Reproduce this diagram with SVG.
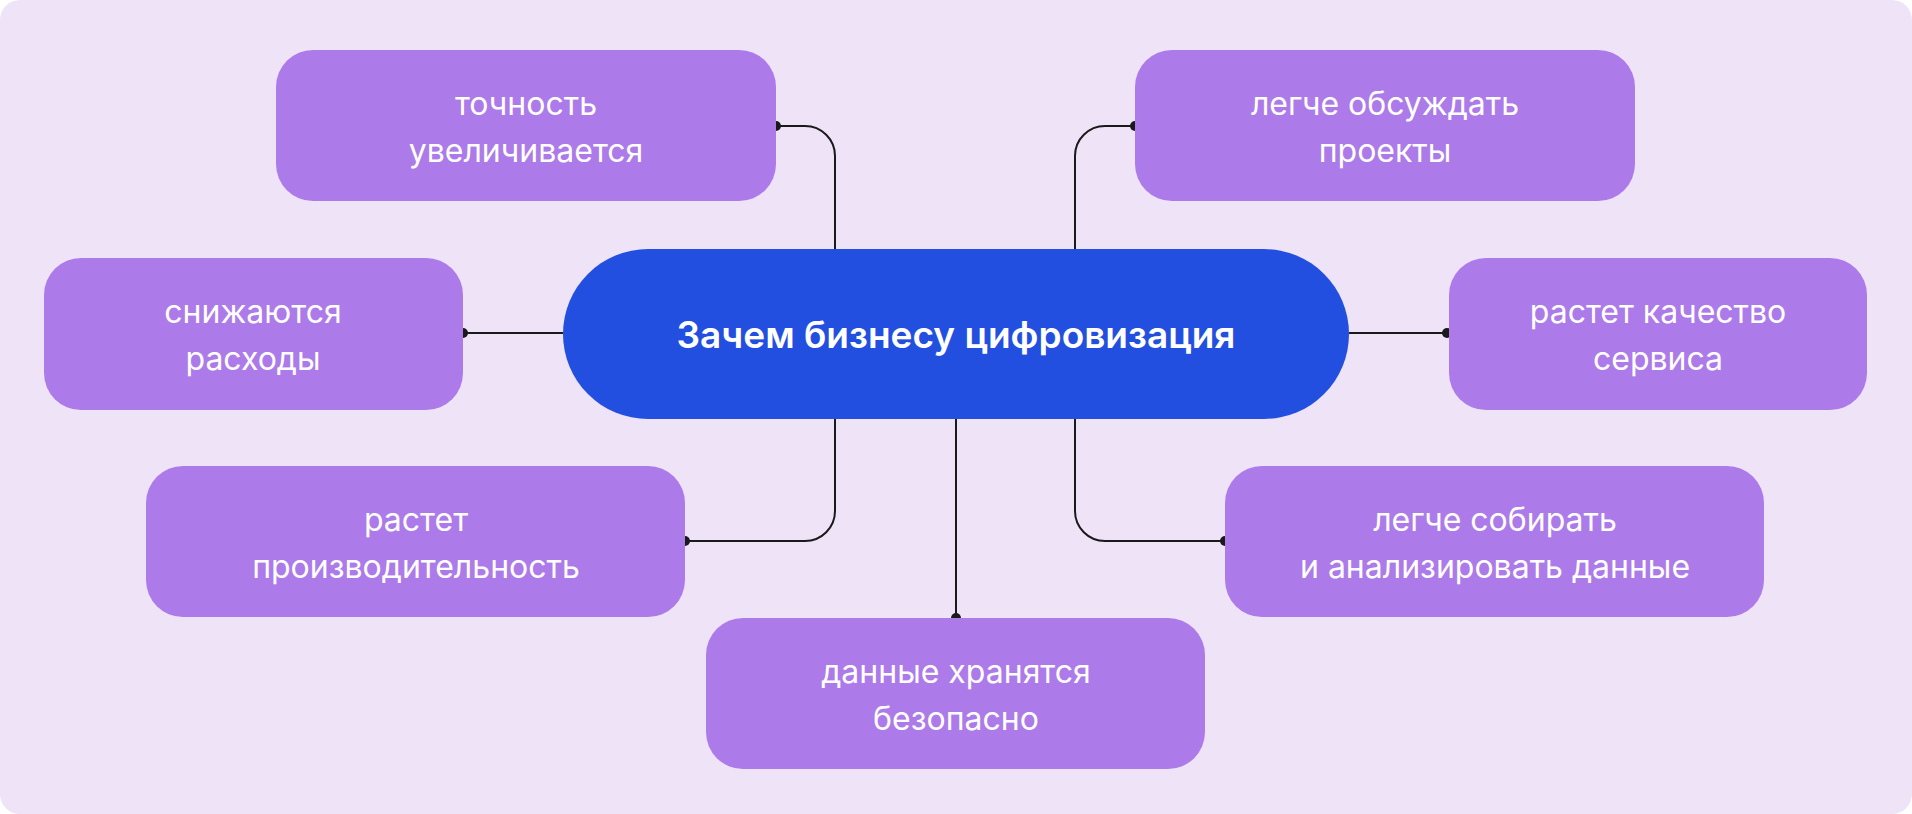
<svg xmlns="http://www.w3.org/2000/svg" width="1912" height="814" viewBox="0 0 1912 814">
<style>
.b{fill:#AD7BE9}
.t{font-family:Inter,"Noto Sans",sans-serif;font-size:32px;fill:#fff;text-anchor:middle}
.c{fill:none;stroke:#1a1a1a;stroke-width:2}
.d{fill:#1a1a1a}
</style>
<rect width="1912" height="814" rx="20" fill="#EFE3F8"/>
<g id="connectors">
<path class="c" d="M776 126H805a30 30 0 0 1 30 30V249"/>
<path class="c" d="M1135 126H1105a30 30 0 0 0 -30 30V249"/>
<path class="c" d="M463 333H563"/>
<path class="c" d="M1349 333H1447"/>
<path class="c" d="M835 419V511a30 30 0 0 1 -30 30H685"/>
<path class="c" d="M1075 419V511a30 30 0 0 0 30 30H1225"/>
<path class="c" d="M956 419V618"/>
<circle class="d" cx="776" cy="126" r="5"/>
<circle class="d" cx="1135" cy="126" r="5"/>
<circle class="d" cx="463" cy="333" r="5"/>
<circle class="d" cx="1447" cy="333" r="5"/>
<circle class="d" cx="685" cy="541" r="5"/>
<circle class="d" cx="1225" cy="541" r="5"/>
<circle class="d" cx="956" cy="618" r="5"/>
</g>
<g id="center"><rect x="563" y="249" width="786" height="170" rx="85" fill="#234FE0"/>
<text x="956" y="348" class="t" style="font-size:37px;font-weight:600">Зачем бизнесу цифровизация</text></g>
<g id="n1"><rect class="b" x="276" y="50" width="500" height="151" rx="37"/><text class="t" x="526" y="115">точность</text><text class="t" x="526" y="162">увеличивается</text></g>
<g id="n2"><rect class="b" x="44" y="258" width="419" height="152" rx="37"/><text class="t" x="253" y="323">снижаются</text><text class="t" x="253" y="370">расходы</text></g>
<g id="n3"><rect class="b" x="146" y="466" width="539" height="151" rx="37"/><text class="t" x="416" y="531">растет</text><text class="t" x="416" y="578">производительность</text></g>
<g id="n4"><rect class="b" x="706" y="618" width="499" height="151" rx="37"/><text class="t" x="956" y="683">данные хранятся</text><text class="t" x="956" y="730">безопасно</text></g>
<g id="n5"><rect class="b" x="1135" y="50" width="500" height="151" rx="37"/><text class="t" x="1385" y="115">легче обсуждать</text><text class="t" x="1385" y="162">проекты</text></g>
<g id="n6"><rect class="b" x="1449" y="258" width="418" height="152" rx="37"/><text class="t" x="1658" y="323">растет качество</text><text class="t" x="1658" y="370">сервиса</text></g>
<g id="n7"><rect class="b" x="1225" y="466" width="539" height="151" rx="37"/><text class="t" x="1495" y="531">легче собирать</text><text class="t" x="1495" y="578">и анализировать данные</text></g>
</svg>
